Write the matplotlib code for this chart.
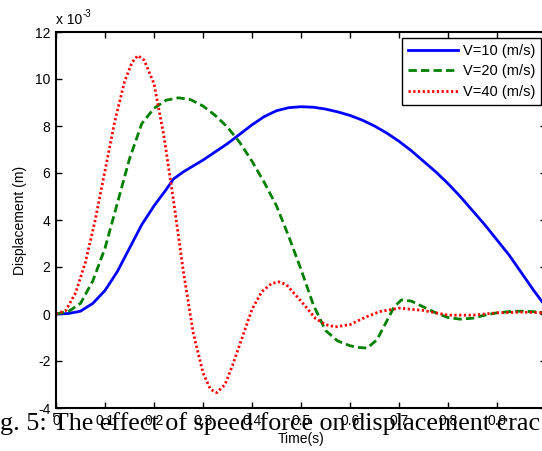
import numpy as np
import matplotlib
matplotlib.use("Agg")
import matplotlib.pyplot as plt

plt.rcParams['font.family'] = ['Liberation Sans', 'DejaVu Sans']
plt.rcParams['axes.unicode_minus'] = False

# displacement values in units of 1e-3 m
t_v10 = [0, 0.025, 0.05, 0.075, 0.1, 0.125, 0.15, 0.175, 0.2, 0.225, 0.24, 0.26,
         0.28, 0.3, 0.325, 0.35, 0.375, 0.4, 0.425, 0.45, 0.475, 0.5, 0.525, 0.55,
         0.575, 0.6, 0.625, 0.65, 0.675, 0.7, 0.725, 0.75, 0.775, 0.8, 0.825, 0.85,
         0.875, 0.9, 0.925, 0.95, 0.975, 1.0]
disp_v10 = [0, 0.02, 0.12, 0.45, 1.0, 1.8, 2.8, 3.8, 4.6, 5.3, 5.75, 6.05,
            6.3, 6.55, 6.9, 7.25, 7.65, 8.05, 8.4, 8.65, 8.78, 8.82, 8.8, 8.72,
            8.6, 8.45, 8.25, 8.0, 7.7, 7.35, 6.95, 6.5, 6.05, 5.55, 5.0, 4.4,
            3.8, 3.15, 2.5, 1.75, 1.0, 0.3]

t_v20 = [0, 0.025, 0.05, 0.075, 0.1, 0.125, 0.15, 0.175, 0.2, 0.225, 0.25, 0.275,
         0.3, 0.325, 0.35, 0.375, 0.4, 0.425, 0.45, 0.475, 0.5, 0.525, 0.55, 0.575,
         0.6, 0.615, 0.635, 0.655, 0.675, 0.69, 0.705, 0.725, 0.75, 0.775, 0.8,
         0.825, 0.85, 0.875, 0.9, 0.925, 0.95, 0.975, 1.0]
disp_v20 = [0, 0.1, 0.45, 1.4, 2.8, 4.7, 6.6, 8.1, 8.75, 9.1, 9.2, 9.12,
            8.85, 8.45, 7.95, 7.3, 6.5, 5.6, 4.6, 3.3, 1.9, 0.4, -0.7, -1.15,
            -1.35, -1.42, -1.45, -1.1, -0.3, 0.3, 0.6, 0.55, 0.3, 0.05, -0.15,
            -0.22, -0.18, -0.05, 0.05, 0.1, 0.12, 0.1, 0.05]

t_v40 = [0, 0.02, 0.04, 0.06, 0.08, 0.1, 0.12, 0.14, 0.155, 0.167, 0.18, 0.2,
         0.22, 0.24, 0.26, 0.28, 0.3, 0.315, 0.328, 0.345, 0.36, 0.38, 0.4, 0.42,
         0.44, 0.455, 0.47, 0.5, 0.53, 0.55, 0.57, 0.6, 0.63, 0.66, 0.7, 0.75,
         0.8, 0.85, 0.9, 0.95, 1.0]
disp_v40 = [0, 0.15, 0.9, 2.2, 4.0, 6.1, 8.2, 9.9, 10.7, 11.0, 10.8, 9.8,
            7.6, 4.8, 1.8, -0.8, -2.5, -3.2, -3.35, -3.0, -2.2, -1.0, 0.2, 0.95,
            1.3, 1.37, 1.25, 0.55, -0.2, -0.45, -0.55, -0.45, -0.15, 0.1, 0.25, 0.15,
            -0.05, -0.05, 0.05, 0.08, 0.05]

# tick at 1 sits past the right edge of the image, so it is left out
x_ticks = [0, 0.1, 0.2, 0.3, 0.4, 0.5, 0.6, 0.7, 0.8, 0.9]
x_tick_labels = ['0', '0.1', '0.2', '0.3', '0.4', '0.5', '0.6', '0.7', '0.8', '0.9']
y_ticks = [-4, -2, 0, 2, 4, 6, 8, 10, 12]

fig = plt.figure(figsize=(5.42, 4.51), dpi=100)
ax = fig.add_axes([56/542, 43/451, 490/542, 376/451])

ax.plot(t_v10, disp_v10, color='blue', lw=2, ls='-', label='V=10 (m/s)')
ax.plot(t_v20, disp_v20, color='green', lw=2, ls=(0, (3, 1.5)), label='V=20 (m/s)')
ax.plot(t_v40, disp_v40, color='red', lw=2, ls=(0, (0.8, 0.9)), label='V=40 (m/s)')

ax.set_xlim(0, 1)
ax.set_ylim(-4, 12)
ax.set_xticks(x_ticks)
ax.set_xticklabels(x_tick_labels)
ax.set_yticks(y_ticks)
ax.tick_params(direction='in', length=4, width=1, top=True, right=True,
               labelsize=10, pad=4)
for s in ax.spines.values():
    s.set_linewidth(1.5)

ax.set_xlabel('Time(s)', fontsize=10, labelpad=3)
ax.set_ylabel('Displacement (m)', fontsize=10, labelpad=6)
# exponent label, MATLAB style
fig.text(56/542, 1 - 20/451, 'x 10', fontsize=10, ha='left', va='center')
fig.text(83/542, 1 - 14/451, '-3', fontsize=7, ha='left', va='center')

leg = ax.legend(loc='upper right', bbox_to_anchor=(541/542, 1 - 38/451),
                bbox_transform=fig.transFigure, fontsize=10.5, fancybox=False,
                edgecolor='black', framealpha=1, handlelength=3.4,
                handletextpad=0.35, labelspacing=0.45, borderpad=0.4,
                borderaxespad=0)
leg.get_frame().set_linewidth(1)

fig.text(0, 1 - 430/451, 'g. 5: The effect of speed force on displacement crac',
         family=['Liberation Serif'], fontsize=18.8, ha='left', va='baseline')

fig.savefig('out.png', dpi=100)
